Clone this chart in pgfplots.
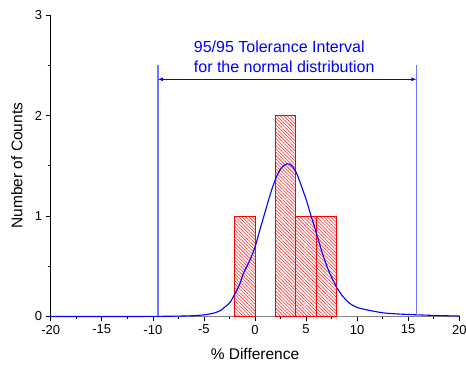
\documentclass[border=0pt]{standalone}
\usepackage{fontspec}
\setmainfont{Liberation Sans}
\usepackage{pgfplots}
\pgfplotsset{compat=1.18}
\usetikzlibrary{patterns.meta,arrows.meta}
\begin{document}
\begin{tikzpicture}
\begin{axis}[
  set layers,
  scale only axis, width=408.6pt, height=301.5pt,
  xmin=-20, xmax=20, ymin=0, ymax=3,
  axis lines=left, axis line style={-},
  x axis line style={gray, line width=1.5pt},
  y axis line style={black, line width=0.7pt},
  xtick={-20,-15,...,20}, ytick={0,1,2,3},
  minor x tick num=1, minor y tick num=1,
  tick align=outside, major tick length=5pt, minor tick length=3pt,
  tick style={black, line width=0.6pt},
  /pgf/number format/assume math mode=true,
  xticklabel style={font=\fontsize{13}{15}\selectfont},
  yticklabel style={font=\fontsize{13}{15}\selectfont},
  xlabel={\% Difference}, ylabel={Number of Counts},
  label style={font=\fontsize{15.5}{18}\selectfont},
  xlabel style={at={(axis description cs:0.5,-0.123)}, anchor=center},
  ylabel style={at={(axis description cs:-0.083,0.5)}, anchor=center},
  clip=false,
]
\addplot[ybar, bar width=2, draw=red, line width=0.8pt,
  pattern={Lines[angle=-45,distance=2.4pt,line width=0.55pt]}, pattern color=red!85]
  coordinates {(-1,1) (3,2) (5,1) (7,1)};
\addplot[blue, line width=1.1pt, smooth, tension=0.5] coordinates {
(-20,0.000) (-15,0.000) (-12,0.000) (-10,0.001) (-8,0.003) (-7,0.005)
(-6,0.008) (-5,0.016) (-4.5,0.024) (-4,0.035) (-3.4,0.058) (-3,0.09)
(-2.45,0.14) (-2,0.22) (-1.5,0.32) (-1.13,0.43) (-0.5,0.56) (0,0.69)
(0.5,0.87) (1.13,1.09) (1.6,1.25) (2.1,1.39) (2.6,1.48) (3.14,1.52)
(3.6,1.50) (4.05,1.43) (4.5,1.31) (5.02,1.16) (5.4,1.03) (5.83,0.89)
(6.3,0.73) (6.5,0.66) (7,0.51) (7.5,0.39) (8,0.29) (8.6,0.20)
(9.27,0.13) (10,0.09) (10.9,0.067) (12.5,0.037) (14,0.025) (15.8,0.017)
(18,0.009) (20,0.005)};
\addplot[blue!55, line width=1.4pt] coordinates {(-9.5,0) (-9.5,2.5)};
\addplot[blue!55, line width=1.4pt] coordinates {(15.8,0) (15.8,2.5)};
\addplot[blue, line width=0.8pt, {Latex[length=5pt,width=4pt]}-{Latex[length=5pt,width=4pt]}]
  coordinates {(-9.5,2.36) (15.8,2.36)};
\node[blue, anchor=west, align=left, font=\fontsize{16}{20}\selectfont, inner sep=0pt]
  at (axis cs:-6,2.585) {95/95 Tolerance Interval\\for the normal distribution};
\end{axis}
\pgfresetboundingbox
\path[use as bounding box] ([shift={(-50.7pt,-48.5pt)}]current axis.south west) rectangle ([shift={(6.7pt,15pt)}]current axis.north east);
\end{tikzpicture}
\end{document}
